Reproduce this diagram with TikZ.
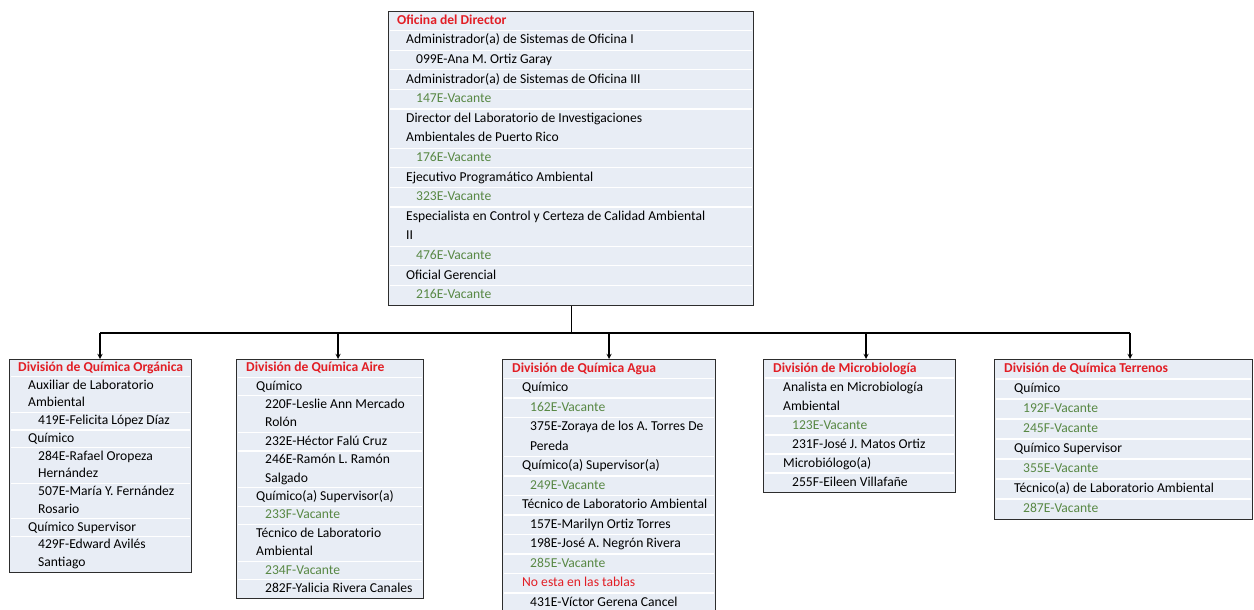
\documentclass[tikz,border=0pt]{standalone}
\usepackage{fontspec}
\setmainfont{Carlito}
\usepackage{xcolor}
\usepackage{tikz}
\usetikzlibrary{calc}

\definecolor{titlered}{RGB}{226,30,37}
\definecolor{vacgreen}{RGB}{88,136,68}
\definecolor{boxfill}{RGB}{232,237,245}
\definecolor{boxline}{RGB}{45,45,45}

%one box of the chart: name, x, y, width, height, row height, rows
\newcommand{\orgbox}[7]{%
	\node [box, minimum width = #4, minimum height = #5] (#1) at (#2, #3) {};
	\foreach \sep/\ind/\col/\txt [count = \i] in {#7} {
		\if\sep s
			\draw [rowline] ({#2 + 1.5}, {#3 + (\i - 1)*#6}) -- ({#2 + #4 - 1.5}, {#3 + (\i - 1)*#6});
		\fi
		\node [row, \col] (#1-\i) at ({#2 + \ind}, {#3 + (\i - 0.5)*#6 + 0.5}) {\txt};
	}
}

\begin{document}
\begin{tikzpicture}[x = 1pt, y = -1pt,
		box/.style = {draw = boxline, fill = boxfill, line width = 1.4pt, inner sep = 0, anchor = north west},
		rowline/.style = {white, line width = 1.2pt},
		row/.style = {anchor = west, inner sep = 0, text height = 9pt, text depth = 3pt, font = \fontsize{13.6}{15}\selectfont},
		ttl/.style = {text = titlered, font = \fontsize{13.6}{15}\selectfont\bfseries},
		blk/.style = {text = black},
		vac/.style = {text = vacgreen},
		note/.style = {text = titlered},
		link/.style = {black, line width = 1.3pt}]
		
		%page
		\useasboundingbox (0, 0) rectangle (1254, 610);
		\fill [white] (0, 0) rectangle (1254, 610);
		
		%director
		\orgbox{dir}{388}{11}{365}{294}{19.6}{
			c/9/ttl/Oficina del Director,
			s/18/blk/Administrador(a) de Sistemas de Oficina I,
			s/28/blk/099E-Ana M. Ortiz Garay,
			s/18/blk/Administrador(a) de Sistemas de Oficina III,
			s/28/vac/147E-Vacante,
			s/18/blk/Director del Laboratorio de Investigaciones,
			c/18/blk/Ambientales de Puerto Rico,
			s/28/vac/176E-Vacante,
			s/18/blk/Ejecutivo Programático Ambiental,
			s/28/vac/323E-Vacante,
			s/18/blk/Especialista en Control y Certeza de Calidad Ambiental,
			c/18/blk/II,
			s/28/vac/476E-Vacante,
			s/18/blk/Oficial Gerencial,
			s/28/vac/216E-Vacante}
		
		%divisions
		\orgbox{org}{9}{359}{182}{213}{17.75}{
			c/9/ttl/División de Química Orgánica,
			s/19/blk/Auxiliar de Laboratorio,
			c/19/blk/Ambiental,
			s/29/blk/419E-Felicita López Díaz,
			s/19/blk/Químico,
			s/29/blk/284E-Rafael Oropeza,
			c/29/blk/Hernández,
			s/29/blk/507E-María Y. Fernández,
			c/29/blk/Rosario,
			s/19/blk/Químico Supervisor,
			s/29/blk/429F-Edward Avilés,
			c/29/blk/Santiago}
		
		\orgbox{aire}{236}{359}{187}{239}{18.4}{
			c/10/ttl/División de Química Aire,
			s/20/blk/Químico,
			s/29/blk/220F-Leslie Ann Mercado,
			c/29/blk/Rolón,
			s/29/blk/232E-Héctor Falú Cruz,
			s/29/blk/246E-Ramón L. Ramón,
			c/29/blk/Salgado,
			s/20/blk/Químico(a) Supervisor(a),
			s/29/vac/233F-Vacante,
			s/20/blk/Técnico de Laboratorio,
			c/20/blk/Ambiental,
			s/29/vac/234F-Vacante,
			s/29/blk/282F-Yalicia Rivera Canales}
		
		\orgbox{agua}{502}{359}{213}{254}{19.5}{
			c/10/ttl/División de Química Agua,
			s/20/blk/Químico,
			s/28/vac/162E-Vacante,
			s/28/blk/375E-Zoraya de los A. Torres De,
			c/28/blk/Pereda,
			s/20/blk/Químico(a) Supervisor(a),
			s/28/vac/249E-Vacante,
			s/20/blk/Técnico de Laboratorio Ambiental,
			s/28/blk/157E-Marilyn Ortiz Torres,
			s/28/blk/198E-José A. Negrón Rivera,
			s/28/vac/285E-Vacante,
			s/20/note/No esta en las tablas,
			s/28/blk/431E-Víctor Gerena Cancel}
		
		\orgbox{micro}{763}{359}{192}{133}{19}{
			c/10/ttl/División de Microbiología,
			s/20/blk/Analista en Microbiología,
			c/20/blk/Ambiental,
			s/29/vac/123E-Vacante,
			s/29/blk/231F-José J. Matos Ortiz,
			s/20/blk/Microbiólogo(a),
			s/29/blk/255F-Eileen Villafañe}
		
		\orgbox{terr}{994}{359}{258}{160}{20}{
			c/10/ttl/División de Química Terrenos,
			s/20/blk/Químico,
			s/29/vac/192F-Vacante,
			s/29/vac/245F-Vacante,
			s/20/blk/Químico Supervisor,
			s/29/vac/355E-Vacante,
			s/20/blk/Técnico(a) de Laboratorio Ambiental,
			s/29/vac/287E-Vacante}
		
		%connectors
		\draw [link] (dir.south) -- ++(0, 28) coordinate (bus);
		\foreach \b/\x in {org/100, aire/338, agua/609, micro/866, terr/1130}
			\coordinate (drop-\b) at (\x, 333);
		\draw [link] (drop-org) -- (drop-terr);
		\foreach \b in {org, aire, agua, micro, terr}
			\draw [link, -stealth] (drop-\b) -- (drop-\b |- \b.north);
	\end{tikzpicture}
\end{document}
